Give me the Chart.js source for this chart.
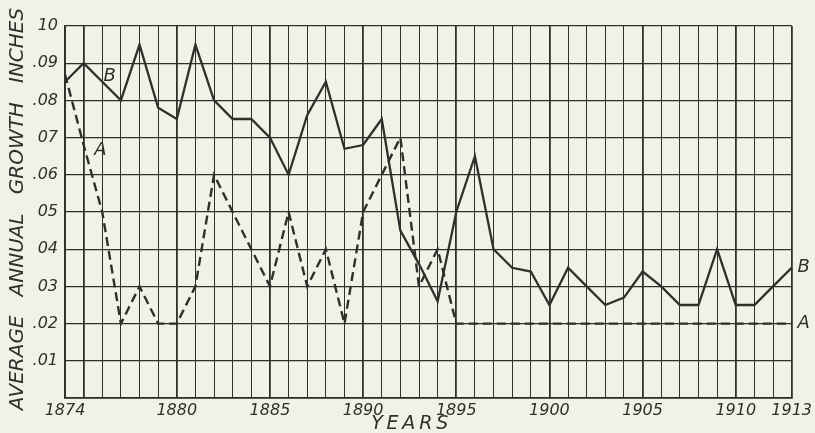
<!DOCTYPE html>
<html>
<head>
<meta charset="utf-8">
<script src="https://cdn.jsdelivr.net/npm/chart.js@4/dist/chart.umd.min.js"></script>
<style>
  html, body { margin: 0; padding: 0; background: #f1f2e6; }
  #wrap { width: 815px; height: 433px; }
</style>
</head>
<body>
<div id="wrap"><canvas id="growth-chart"></canvas></div>
<script>
// data, one value per year 1874..1913
const years = [];
for (let y = 1874; y <= 1913; y++) years.push(y);

const seriesB = [
  0.085, 0.090, 0.085, 0.080, 0.095, 0.078, 0.075, 0.095, 0.080, 0.075,
  0.075, 0.070, 0.060, 0.076, 0.085, 0.067, 0.068, 0.075, 0.045, 0.036,
  0.026, 0.050, 0.065, 0.040, 0.035, 0.034, 0.025, 0.035, 0.030, 0.025,
  0.027, 0.034, 0.030, 0.025, 0.025, 0.040, 0.025, 0.025, 0.030, 0.035
];
const seriesA = [
  0.087, 0.068, 0.050, 0.020, 0.030, 0.020, 0.020, 0.030, 0.060, 0.050,
  0.040, 0.030, 0.050, 0.030, 0.040, 0.020, 0.050, 0.060, 0.070, 0.030,
  0.040, 0.020, 0.020, 0.020, 0.020, 0.020, 0.020, 0.020, 0.020, 0.020,
  0.020, 0.020, 0.020, 0.020, 0.020, 0.020, 0.020, 0.020, 0.020, 0.020
];

const xTickLabels = [1874, 1880, 1885, 1890, 1895, 1900, 1905, 1910, 1913];
const yTickLabels = ['', '.01', '.02', '03', '04', '05', '.06', '07', '.08', '.09', '10'];
const xTitle = 'YEARS';
const yTitle = 'AVERAGE   ANNUAL   GROWTH   INCHES';

const ink = '#2f302c';
const paper = '#f1f2e6';
const letterFont = 'DejaVu Sans';

const paperBg = {
  id: 'paperBg',
  beforeDraw(chart) {
    const ctx = chart.ctx;
    ctx.save();
    ctx.fillStyle = paper;
    ctx.fillRect(0, 0, chart.width, chart.height);
    ctx.restore();
  }
};

// spread a title out to a given length, like hand lettering
function spacedText(ctx, text, x, y, length) {
  ctx.letterSpacing = '0px';
  const w = ctx.measureText(text).width;
  const gap = Math.max(0, (length - w) / (text.length - 1));
  ctx.letterSpacing = gap + 'px';
  ctx.fillText(text, x + gap / 2, y);
  ctx.letterSpacing = '0px';
}

// axis titles and curve letters
const lettering = {
  id: 'lettering',
  afterDatasetsDraw(chart) {
    const ctx = chart.ctx;
    const xs = chart.scales.x, ys = chart.scales.y;
    ctx.save();
    ctx.fillStyle = ink;
    ctx.textAlign = 'center';
    ctx.textBaseline = 'middle';

    ctx.font = 'italic 18px ' + letterFont;
    ctx.fillText('B', xs.getPixelForValue(1876.4), ys.getPixelForValue(0.0865));
    ctx.fillText('A', xs.getPixelForValue(1875.9), ys.getPixelForValue(0.0665));
    const right = chart.chartArea.right + 12;
    ctx.fillText('B', right, ys.getPixelForValue(seriesB[seriesB.length - 1]));
    ctx.fillText('A', right, ys.getPixelForValue(seriesA[seriesA.length - 1]));

    ctx.font = 'italic 19px ' + letterFont;
    spacedText(ctx, xTitle, xs.getPixelForValue(1892.5), 424, 77);

    ctx.save();
    ctx.translate(18, 209);
    ctx.rotate(-Math.PI / 2);
    ctx.font = 'italic 20px ' + letterFont;
    spacedText(ctx, yTitle, 0, 0, 400);
    ctx.restore();

    ctx.restore();
  }
};

const ctx = document.getElementById('growth-chart').getContext('2d');
const chart = new Chart(ctx, {
  type: 'line',
  data: {
    datasets: [
      {
        label: 'B',
        data: years.map((y, i) => ({ x: y, y: seriesB[i] })),
        borderColor: ink,
        borderWidth: 2.3,
        pointRadius: 0,
        tension: 0
      },
      {
        label: 'A',
        data: years.map((y, i) => ({ x: y, y: seriesA[i] })),
        borderColor: ink,
        borderWidth: 2.4,
        borderDash: [9, 5],
        pointRadius: 0,
        tension: 0
      }
    ]
  },
  options: {
    responsive: true,
    maintainAspectRatio: false,
    animation: false,
    events: [],
    layout: { padding: { left: 0, right: 21, top: 26, bottom: 0 } },
    plugins: { legend: { display: false }, tooltip: { enabled: false } },
    scales: {
      x: {
        type: 'linear',
        min: 1874,
        max: 1913,
        afterFit(scale) { scale.height = 35; },
        ticks: {
          stepSize: 1,
          autoSkip: false,
          maxRotation: 0,
          padding: 3,
          color: ink,
          font: { family: letterFont, size: 16, style: 'italic' },
          callback: (v) => xTickLabels.includes(v) ? String(v) : ''
        },
        grid: {
          drawTicks: false,
          color: ink,
          lineWidth: (c) => (c.tick && (c.tick.value % 5 === 0 || c.tick.value === 1874 || c.tick.value === 1913)) ? 1.8 : 1
        },
        border: { color: ink, width: 1.8 }
      },
      y: {
        min: 0,
        max: 0.10,
        afterFit(scale) { scale.width = 65; },
        ticks: {
          stepSize: 0.01,
          padding: 7,
          color: ink,
          font: { family: letterFont, size: 16, style: 'italic' },
          callback: (v, i) => yTickLabels[i]
        },
        grid: { drawTicks: false, color: ink, lineWidth: 1.2 },
        border: { color: ink, width: 1.8 }
      }
    }
  },
  plugins: [paperBg, lettering]
});
</script>
</body>
</html>
